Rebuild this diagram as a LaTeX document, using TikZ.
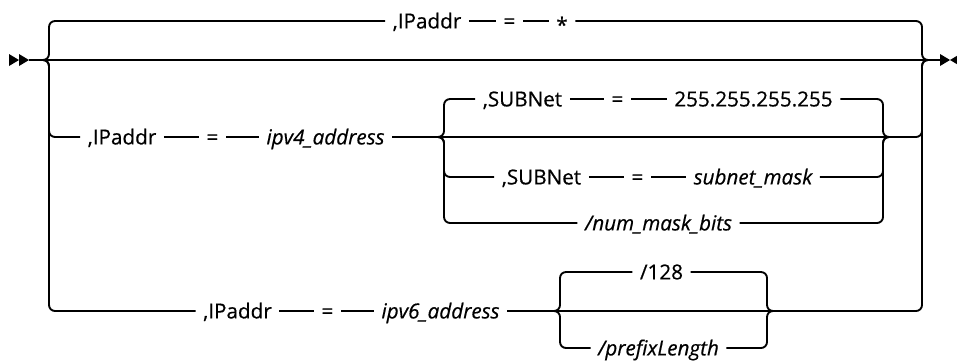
\documentclass[tikz,border=0pt]{standalone}
\usepackage{fontspec}
\setmainfont{Open Sans}[FakeBold=0.5]
\begin{document}
\begin{tikzpicture}[x=0.75pt,y=-0.75pt,
  rail/.style={line width=1.4pt,rounded corners=4.5pt},
  kw/.style={font=\fontsize{15.5}{18}\selectfont,inner xsep=5.5pt,inner ysep=0pt,text height=11.1pt,text depth=0pt},
  var/.style={kw,font=\fontsize{15.5}{18}\selectfont\itshape},
  tip/.style={fill=black}]
\useasboundingbox (0,0) rectangle (957,364);
% rail ends and brace points
\coordinate (start) at (29,60);
\coordinate (stop) at (941,60);
\coordinate (oL) at (40,60);
\coordinate (oLv) at (49,60);
\coordinate (oRv) at (922,60);
\coordinate (oR) at (929,60);
\coordinate (sA) at (437,137);
\coordinate (sAv) at (444,137);
\coordinate (sAw) at (883,137);
\coordinate (sAe) at (890,137);
\coordinate (sB) at (552,311);
\coordinate (sBv) at (560,311);
\coordinate (sBw) at (767,311);
\coordinate (sBe) at (774,311);
\foreach \x in {9,19} \fill[tip] (\x,54) -- ++(10,6) -- ++(-10,6) -- cycle;
\fill[tip] (940,54) -- (950,60) -- (940,66) -- cycle;
\fill[tip] (960,54) -- (950,60) -- (960,66) -- cycle;
\draw[rail] (start) -- (stop);
% ,IPaddr=*
\node[kw] (t1) at (427,21) {,IPaddr};
\node[kw] (t2) at (509.5,21) {=};
\node[kw] (t3) at (562,21) {\raisebox{-3pt}{*}};
\draw[rail] (oL) -- (oLv) |- (t1.west);
\draw[rail] (t1) -- (t2);
\draw[rail] (t2) -- (t3);
\draw[rail] (t3.east) -| (oRv) -- (oR);
% ipv4
\node[kw] (a1) at (122,137) {,IPaddr};
\node[kw] (a2) at (212.5,137) {=};
\node[var] (a3) at (325.5,137) {ipv4\_address};
\draw[rail] (oL) -- (oLv) |- (a1.west);
\draw[rail] (a1) -- (a2);
\draw[rail] (a2) -- (a3);
\draw[rail] (a3.east) -- (sA);
\node[kw] (b1) at (522.5,99) {,SUBNet};
\node[kw] (b2) at (617.5,99) {=};
\node[kw] (b3) at (753.5,99) {255.255.255.255};
\draw[rail] (sA) -- (sAv) |- (b1.west);
\draw[rail] (b1) -- (b2);
\draw[rail] (b2) -- (b3);
\draw[rail] (b3.east) -| (sAw) -- (sAe);
\draw[rail] (sA) -- (sAe);
\node[kw] (c1) at (541.5,177) {,SUBNet};
\node[kw] (c2) at (637.5,177) {=};
\node[var] (c3) at (753,177) {subnet\_mask};
\draw[rail] (sA) -- (sAv) |- (c1.west);
\draw[rail] (c1) -- (c2);
\draw[rail] (c2) -- (c3);
\draw[rail] (c3.east) -| (sAw) -- (sAe);
\node[var] (d1) at (658.5,223) {/num\_mask\_bits};
\draw[rail] (sA) -- (sAv) |- (d1.west);
\draw[rail] (d1.east) -| (sAw) -- (sAe);
\draw[rail] (sAe) -| (oRv) -- (oR);
% ipv6
\node[kw] (e1) at (237.5,311) {,IPaddr};
\node[kw] (e2) at (327.5,311) {=};
\node[var] (e3) at (440.5,311) {ipv6\_address};
\draw[rail] (oL) -- (oLv) |- (e1.west);
\draw[rail] (e1) -- (e2);
\draw[rail] (e2) -- (e3);
\draw[rail] (e3.east) -- (sB);
\node[kw] (f1) at (661.5,272) {/128};
\draw[rail] (sB) -- (sBv) |- (f1.west);
\draw[rail] (f1.east) -| (sBw) -- (sBe);
\draw[rail] (sB) -- (sBe);
\node[var] (g1) at (658.5,348) {/prefixLength};
\draw[rail] (sB) -- (sBv) |- (g1.west);
\draw[rail] (g1.east) -| (sBw) -- (sBe);
\draw[rail] (sBe) -| (oRv) -- (oR);
\end{tikzpicture}
\end{document}
